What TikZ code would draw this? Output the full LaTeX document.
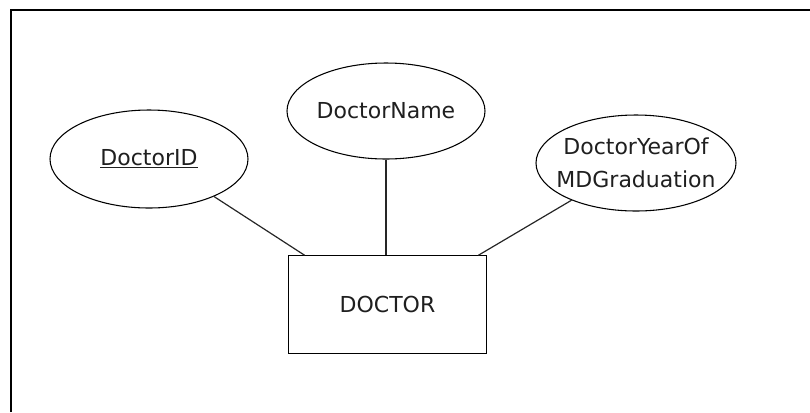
\documentclass[tikz,border=0pt]{standalone}
\usepackage{fontspec}
\setmainfont{DejaVu Sans}
\usetikzlibrary{shapes.geometric}

\tikzset{
  attr/.style={draw, ellipse, line width=0.8pt, inner sep=0pt, align=center,
    text=black!88, font=\fontsize{16.5}{24.75}\selectfont},
  entity/.style={draw, rectangle, line width=0.9pt, inner sep=0pt,
    minimum width=149pt, minimum height=73pt,
    text=black!88, font=\fontsize{16.5}{24.75}\selectfont},
  link/.style={line width=0.9pt, black!85},
  frame/.style={line width=1.6pt, black}
}

\begin{document}
\begin{tikzpicture}[x=0.75pt, y=-0.75pt]
  \useasboundingbox (0,0) rectangle (810,412);

  % open frame: left and top edges
  \draw[frame] (11,412) -- (11,10) -- (810,10);

  % entity
  \node[entity] (doctor) at (387.5,304.5) {DOCTOR};

  % attributes
  \node[attr, minimum width=148.5pt, minimum height=73.5pt] (did) at (149,159)
    {\underline{DoctorID}};
  \node[attr, minimum width=148.5pt, minimum height=72pt] (dname) at (386,111)
    {DoctorName};
  % the two-line label runs up to the outline, so the shape is kept at its set size
  \node[attr, inner sep=-12pt, minimum width=150pt, minimum height=72pt] (dyear) at (636,163)
    {DoctorYearOf\\MDGraduation};

  % attribute links
  \draw[link] (did.-30) -- ([xshift=12.75pt]doctor.north west);
  \draw[link] (dname.south) -- (dname.south |- doctor.north);
  \draw[link] (dyear.-150) -- ([xshift=-6.75pt]doctor.north east);
\end{tikzpicture}
\end{document}
